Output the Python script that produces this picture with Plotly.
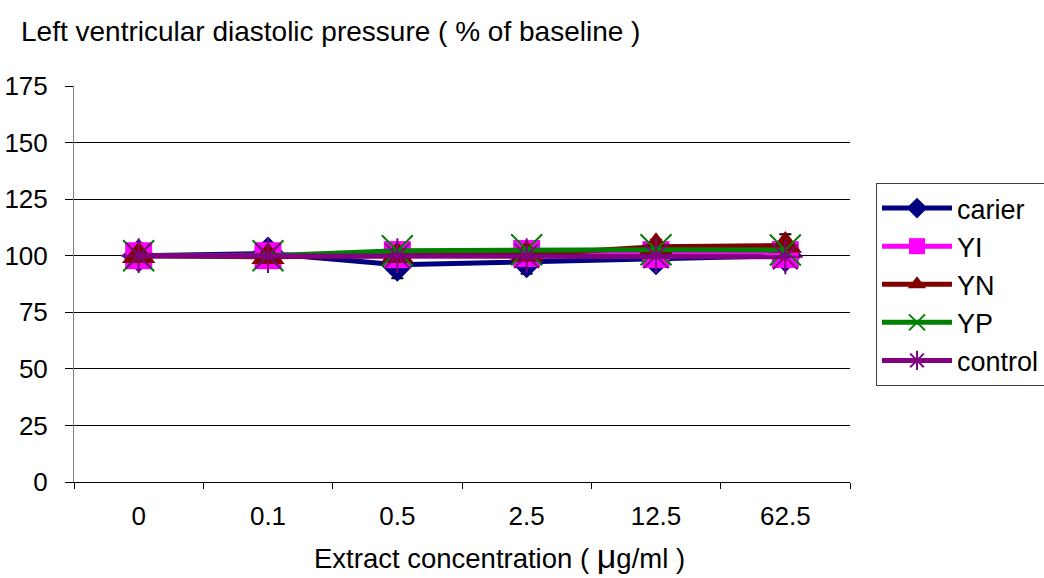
import plotly.graph_objects as go

categories = ["0", "0.1", "0.5", "2.5", "12.5", "62.5"]
carier = [100, 101, 96, 97.5, 98.8, 100]
carier_err = [0, 0.5, 6, 5.5, 4, 1]
yi = [100, 100, 100.5, 101, 100.5, 100.5]
yn = [100, 99.5, 100, 100.5, 104, 104.5]
yn_err = [0, 0, 0, 0, 3, 5]
yp = [100, 100, 102.2, 102.6, 102.6, 102.5]
control = [100, 100, 100, 100, 100, 99.5]
y_ticks = [0, 25, 50, 75, 100, 125, 150, 175]

FONT = "Liberation Sans, Arial, sans-serif"

fig = go.Figure()

def add(name, y, color, symbol, size, err=None, open_sym=False):
    marker = dict(symbol=symbol, size=size, color=color)
    if open_sym:
        marker["line"] = dict(color=color, width=2)
    kw = {}
    if err is not None:
        kw["error_y"] = dict(type="data", array=err, visible=True, color="black",
                             thickness=2, width=6)
    fig.add_trace(go.Scatter(x=categories, y=y, name=name, mode="lines+markers",
                             line=dict(color=color, width=5), marker=marker, **kw))

add("carier", carier, "#000080", "diamond", 26, carier_err)
add("YI", yi, "#FF00FF", "square", 27, None)
add("YN", yn, "#800000", "triangle-up", 29, yn_err)
add("YP", yp, "#008000", "x-thin", 31, open_sym=True)
add("control", control, "#800080", "asterisk", 29, open_sym=True)

fig.update_layout(
    width=1044, height=578,
    margin=dict(l=74, r=194, t=86, b=96, autoexpand=False),
    paper_bgcolor="white", plot_bgcolor="white",
    font=dict(family=FONT, size=26, color="black"),
    showlegend=True,
    legend=dict(x=(876 - 74) / 776, xanchor="left", y=(482 - 183) / 396, yanchor="top",
                bordercolor="#404040", borderwidth=1, bgcolor="white",
                font=dict(size=27), tracegroupgap=0, itemwidth=70),
    xaxis=dict(type="category", range=[-0.5, 5.5], showgrid=False,
               showline=True, linecolor="black", linewidth=1,
               ticks="outside", tickson="boundaries", ticklen=6, tickcolor="black",
               ticklabelstandoff=11, tickfont=dict(size=26)),
    yaxis=dict(range=[0, 175], tickvals=y_ticks, showgrid=True, gridcolor="black",
               gridwidth=1, showline=True, linecolor="#808080", linewidth=1,
               ticks="outside", ticklen=8, tickcolor="black", zeroline=False,
               ticklabelstandoff=12, tickfont=dict(size=26)),
    annotations=[
        dict(text="Left ventricular diastolic pressure ( % of baseline )",
             xref="paper", yref="paper", x=(19 - 74) / 776, y=(482 - 31) / 396,
             xanchor="left", yanchor="middle", showarrow=False, font=dict(size=28)),
        dict(text='Extract concentration ( <span style="font-size:34px">μ</span>g/ml )',
             xref="paper", yref="paper", x=(499 - 74) / 776, y=(482 - 556) / 396,
             xanchor="center", yanchor="middle", showarrow=False, font=dict(size=27.5)),
    ],
)

fig.write_html("out.html")
